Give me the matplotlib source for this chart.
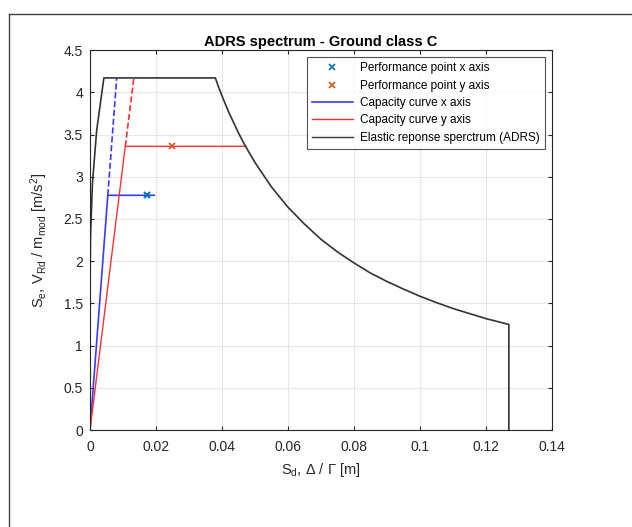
import numpy as np
import matplotlib
matplotlib.use("Agg")
import matplotlib.pyplot as plt
from matplotlib.lines import Line2D

plt.rcParams['font.family'] = ['Liberation Sans', 'DejaVu Sans']
plt.rcParams['mathtext.fontset'] = 'custom'
plt.rcParams['mathtext.rm'] = 'Liberation Sans'
plt.rcParams['mathtext.it'] = 'Liberation Sans'

# elastic response spectrum (ADRS)
adrs_sd = [0.0, 0.0, 0.00015, 0.00074, 0.0020, 0.0042, 0.038, 0.039, 0.040, 0.042,
           0.045, 0.047, 0.050, 0.055, 0.060, 0.065, 0.070, 0.075, 0.080, 0.085,
           0.090, 0.095, 0.100, 0.105, 0.110, 0.115, 0.120, 0.124, 0.127, 0.127]
adrs_sa = [0.0, 1.67, 2.29, 2.92, 3.54, 4.17, 4.17, 4.06, 3.96, 3.77,
           3.52, 3.37, 3.17, 2.88, 2.64, 2.44, 2.26, 2.11, 1.98, 1.86,
           1.76, 1.67, 1.585, 1.51, 1.44, 1.38, 1.32, 1.28, 1.25, 0.0]

# capacity curves (bilinear)
cap_x_sd = [0.0, 0.0054, 0.0195]
cap_x_sa = [0.0, 2.78, 2.78]
cap_y_sd = [0.0, 0.0107, 0.0472]
cap_y_sa = [0.0, 3.36, 3.36]

# elastic branch extensions (dashed)
ext_x_sd = [0.0054, 0.0081]
ext_x_sa = [2.78, 4.17]
ext_y_sd = [0.0107, 0.0133]
ext_y_sa = [3.36, 4.17]

# performance points
pp_x = (0.0172, 2.78)
pp_y = (0.0248, 3.36)

c_pp_x = (0.0, 0.447, 0.741)
c_pp_y = (0.85, 0.325, 0.098)
c_blue = '#3a3aff'
c_red = '#ff3030'
c_black = '#333333'

fig = plt.figure(figsize=(6.32, 5.27), dpi=100)
ax = fig.add_axes([0.1424, 0.184, 0.7306, 0.721])

ax.plot(ext_x_sd, ext_x_sa, '--', color=c_blue, lw=1.2)
ax.plot(ext_y_sd, ext_y_sa, '--', color=c_red, lw=1.2)
ax.plot(cap_x_sd, cap_x_sa, '-', color=c_blue, lw=1.2)
ax.plot(cap_y_sd, cap_y_sa, '-', color=c_red, lw=1.0)
ax.plot(adrs_sd, adrs_sa, '-', color=c_black, lw=1.2)
ax.plot(pp_x[0], pp_x[1], 'x', color=c_pp_x, ms=5, mew=1.5)
ax.plot(pp_y[0], pp_y[1], 'x', color=c_pp_y, ms=5, mew=1.2)

ax.set_xlim(0, 0.14)
ax.set_ylim(0, 4.5)
ax.set_xticks(np.arange(0, 0.141, 0.02))
ax.set_xticklabels(['0', '0.02', '0.04', '0.06', '0.08', '0.1', '0.12', '0.14'])
ax.set_yticks(np.arange(0, 4.51, 0.5))
ax.set_yticklabels(['0', '0.5', '1', '1.5', '2', '2.5', '3', '3.5', '4', '4.5'])
ax.grid(True, color='#e6e6e6', lw=0.8)
ax.set_axisbelow(True)
ax.tick_params(direction='in', length=3, labelsize=10, colors='#262626',
               top=True, right=True)
ax.tick_params(axis='x', pad=7)
ax.tick_params(axis='y', pad=5)
for s in ax.spines.values():
    s.set_color('#262626')
    s.set_linewidth(0.8)

ax.set_title('ADRS spectrum - Ground class C', fontsize=10.5, fontweight='bold', pad=3)
ax.set_xlabel(r'S$_{\rm d}$, $\Delta$ / $\Gamma$ [m]', fontsize=10.5, color='#262626',
              labelpad=5)
ax.set_ylabel(r'S$_{\rm e}$, V$_{\rm Rd}$ / m$_{\rm mod}$ [m/s$^2$]', fontsize=10.5,
              color='#262626', labelpad=10)

handles = [
    Line2D([], [], ls='none', marker='x', color=c_pp_x, ms=4, mew=1.2),
    Line2D([], [], ls='none', marker='x', color=c_pp_y, ms=4, mew=1.2),
    Line2D([], [], color=c_blue, lw=1.2),
    Line2D([], [], color=c_red, lw=1.0),
    Line2D([], [], color=c_black, lw=1.0),
]
labels = ['Performance point x axis', 'Performance point y axis',
          'Capacity curve x axis', 'Capacity curve y axis',
          'Elastic reponse sperctrum (ADRS)']
leg = ax.legend(handles, labels, loc='upper right', fontsize=8.5, frameon=True,
                fancybox=False, edgecolor='#262626', handlelength=3.4,
                borderaxespad=0.6, labelspacing=0.45, handletextpad=0.6,
                borderpad=0.45)
leg.get_frame().set_linewidth(0.8)

# outer frame lines
fig.add_artist(Line2D([9 / 632, 1.0], [1 - 14 / 527, 1 - 14 / 527],
                      transform=fig.transFigure, color='#404040', lw=1.0))
fig.add_artist(Line2D([9 / 632, 9 / 632], [0.0, 1 - 14 / 527],
                      transform=fig.transFigure, color='#404040', lw=1.0))

fig.savefig('out.png', dpi=100)
